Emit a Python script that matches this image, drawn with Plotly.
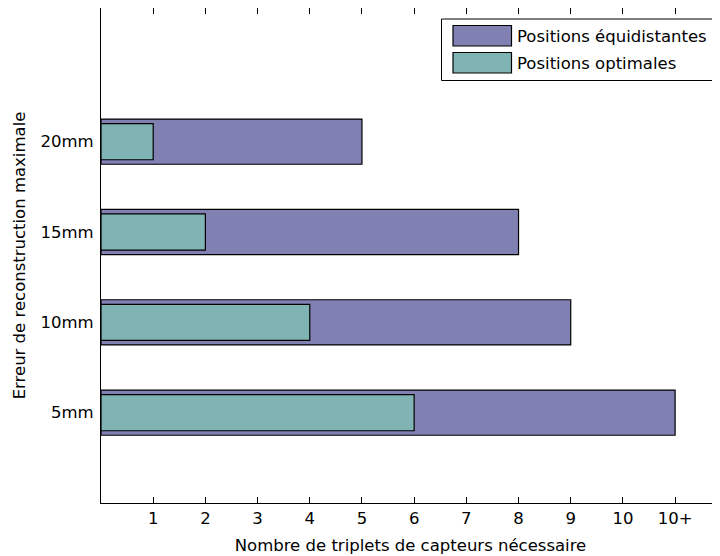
import plotly.graph_objects as go

categories = ["5mm", "10mm", "15mm", "20mm"]
cat_pos = [1, 2, 3, 4]
equidistant = [11, 9, 8, 5]   # 11 = "10+"
optimal = [6, 4, 2, 1]
x_tickvals = [1, 2, 3, 4, 5, 6, 7, 8, 9, 10, 11]
x_ticktext = ["1", "2", "3", "4", "5", "6", "7", "8", "9", "10", "10+"]
series_names = ["Positions équidistantes", "Positions optimales"]
colors = ["#8080B3", "#80B3B3"]

FONT = "DejaVu Sans"
FS = 16.5

# the page body has an 8px margin: the figure starts at page pixel (8, 8)
OFF = 8
W, H = 712, 548
L, R, T = 101 - OFF, 0, 8 - OFF
B = H - (503 - OFF)
pw, ph = W - L - R, H - T - B

def px(p):  # page pixel -> paper x
    return (p - OFF - L) / pw

def py(q):  # page pixel -> paper y
    return (H - B - (q - OFF)) / ph

fig = go.Figure()
fig.add_trace(go.Bar(y=cat_pos, x=equidistant, orientation="h", width=0.5,
                     name=series_names[0], marker=dict(color=colors[0], line=dict(color="black", width=1.2)),
                     showlegend=False))
fig.add_trace(go.Bar(y=cat_pos, x=optimal, orientation="h", width=0.4,
                     name=series_names[1], marker=dict(color=colors[1], line=dict(color="black", width=1.2)),
                     showlegend=False))

lx0, lx1, ly0, ly1 = px(441.5), px(760), py(80.5), py(19)
shapes = [
    # legend box, open on the right (it runs past the edge of the picture)
    dict(type="path", xref="paper", yref="paper",
         path=f"M {lx1} {ly1} L {lx0} {ly1} L {lx0} {ly0} L {lx1} {ly0}",
         line=dict(color="black", width=1), fillcolor="white", layer="above"),
    dict(type="rect", xref="paper", yref="paper", x0=px(453), x1=px(511.5), y0=py(46), y1=py(25.5),
         line=dict(color="black", width=1.2), fillcolor=colors[0], layer="above"),
    dict(type="rect", xref="paper", yref="paper", x0=px(453), x1=px(511.5), y0=py(73), y1=py(52.5),
         line=dict(color="black", width=1.2), fillcolor=colors[1], layer="above"),
]
annotations = [
    dict(xref="paper", yref="paper", x=px(515), y=py(36), text=series_names[0], showarrow=False,
         xanchor="left", yanchor="middle", font=dict(family=FONT, size=FS, color="black")),
    dict(xref="paper", yref="paper", x=px(515), y=py(63), text=series_names[1], showarrow=False,
         xanchor="left", yanchor="middle", font=dict(family=FONT, size=FS, color="black")),
]

fig.update_layout(
    width=W, height=H,
    margin=dict(l=L, r=R, t=T, b=B, pad=0, autoexpand=False),
    plot_bgcolor="white", paper_bgcolor="white",
    barmode="overlay",
    font=dict(family=FONT, size=FS, color="black"),
    shapes=shapes, annotations=annotations,
    xaxis=dict(range=[0, 11.86], tickvals=x_tickvals, ticktext=x_ticktext, automargin=False,
               ticks="inside", ticklen=6, tickcolor="black", tickwidth=1,
               showline=True, linecolor="black", linewidth=1, mirror="ticks",
               showgrid=False, zeroline=False,
               title=dict(text="Nombre de triplets de capteurs nécessaire", standoff=12,
                          font=dict(family=FONT, size=FS))),
    yaxis=dict(range=[0, 5.48], tickvals=cat_pos, ticktext=categories, automargin=False,
               ticks="", showline=True, linecolor="black", linewidth=1, mirror=False,
               showgrid=False, zeroline=False, ticklabelstandoff=3,
               title=dict(text="Erreur de reconstruction maximale", standoff=10,
                          font=dict(family=FONT, size=FS))),
)

fig.write_html("out.html")
